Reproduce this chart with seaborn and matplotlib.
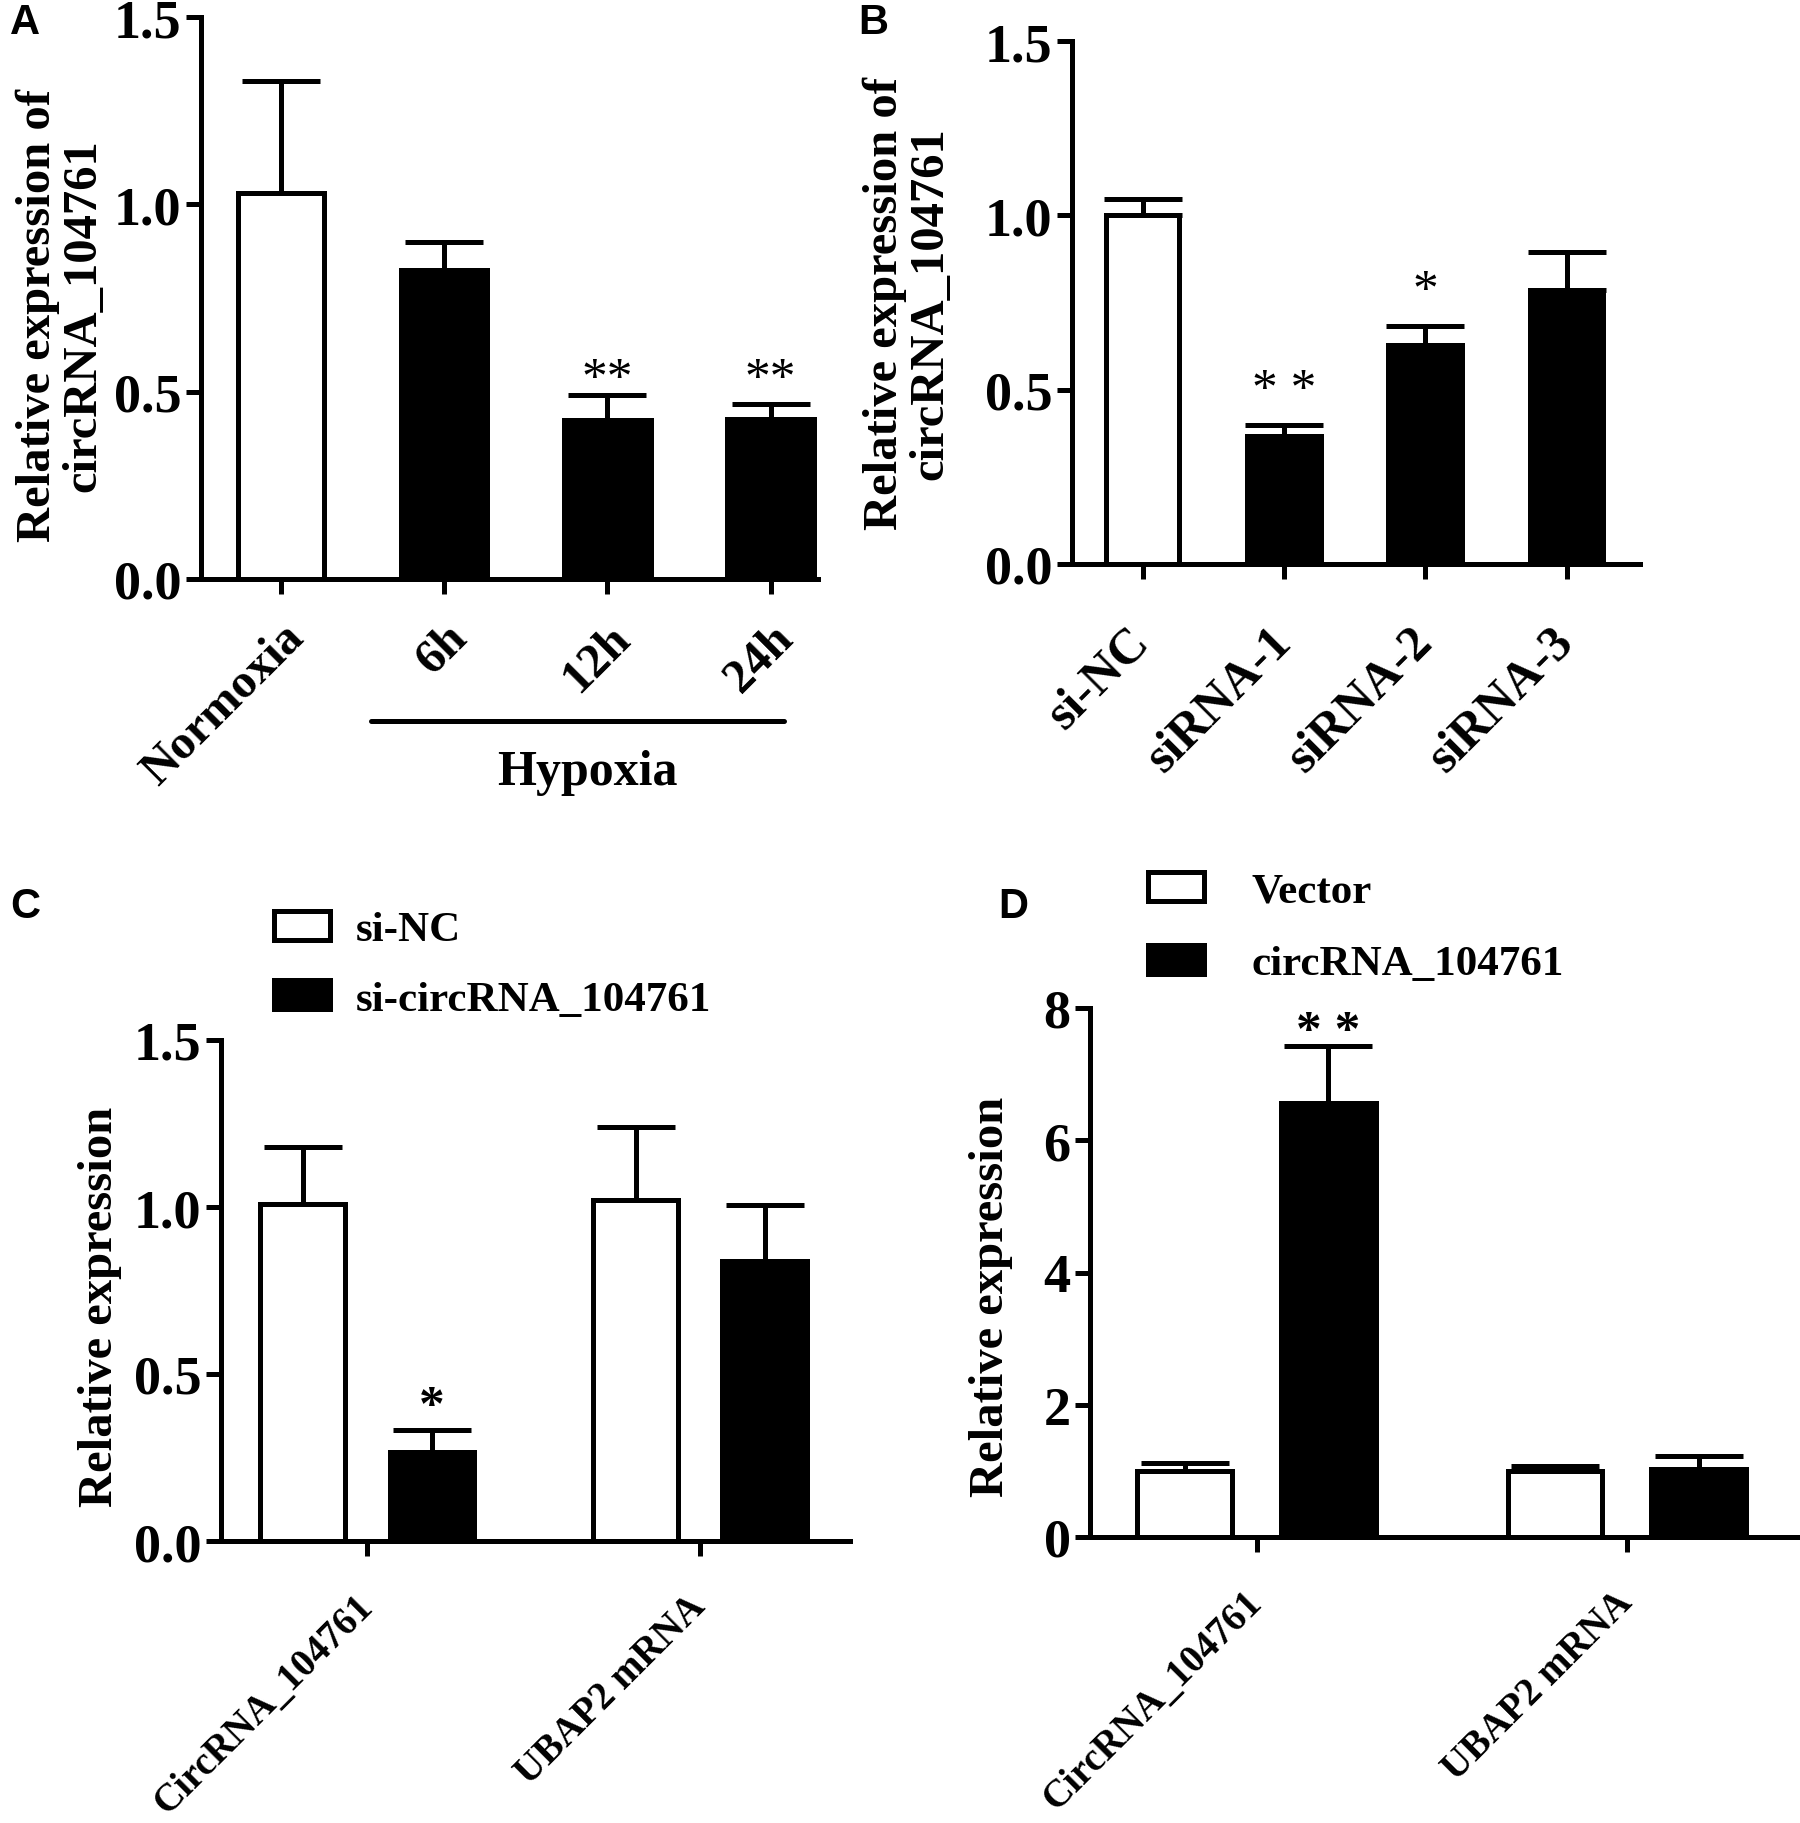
import matplotlib
matplotlib.use("Agg")
import matplotlib.pyplot as plt
import seaborn as sns
import pandas as pd

# panel A
a_groups = ["Normoxia", "6h", "12h", "24h"]
a_mean = [1.03, 0.825, 0.424, 0.426]
a_err = [0.30, 0.075, 0.067, 0.042]
a_sig = ["", "", "**", "**"]
a_sig_y = [0, 0, 0.535, 0.535]

# panel B
b_groups = ["si-NC", "siRNA-1", "siRNA-2", "siRNA-3"]
b_mean = [1.00, 0.366, 0.627, 0.785]
b_err = [0.047, 0.034, 0.057, 0.11]
b_sig = ["", "* *", "*", ""]
b_sig_y = [0, 0.50, 0.784, 0]

# panel C
c_genes = ["CircRNA_104761", "UBAP2 mRNA"]
c_hue = ["si-NC", "si-circRNA_104761"]
c_mean = [[1.01, 1.02], [0.267, 0.837]]   # per hue, per gene
c_err = [[0.17, 0.22], [0.064, 0.17]]
c_sig = [["", ""], ["*", ""]]

# panel D
d_genes = ["CircRNA_104761", "UBAP2 mRNA"]
d_hue = ["Vector", "circRNA_104761"]
d_mean = [[1.00, 1.00], [6.57, 1.03]]
d_err = [[0.115, 0.07], [0.85, 0.19]]
d_sig = [["", ""], ["* *", ""]]

sns.set_style("ticks")
plt.rcParams["font.family"] = ["Liberation Serif", "DejaVu Serif"]
plt.rcParams["font.weight"] = "bold"
plt.rcParams["axes.labelweight"] = "bold"
for k in ["text.color", "axes.labelcolor", "xtick.color", "ytick.color", "axes.edgecolor"]:
    plt.rcParams[k] = "black"

W, H = 1800, 1824
fig = plt.figure(figsize=(W / 100, H / 100), dpi=100)

LW = 3.6
TICK_FS = 39
LAB_FS = 35


def add_axes(left, top, right, bottom):
    return fig.add_axes([left / W, 1 - bottom / H, (right - left) / W, (bottom - top) / H])


def style(ax):
    sns.despine(ax=ax)
    for s in ["left", "bottom"]:
        ax.spines[s].set_linewidth(LW)
    ax.tick_params(width=LW, length=11, labelsize=TICK_FS)
    ax.tick_params(axis="y", pad=3)
    ax.set_xlabel("")
    for lab in ax.get_yticklabels():
        lab.set_fontweight("bold")


def rot_labels(ax, labels, fs, pad, va="top"):
    ax.set_xticks(range(len(labels)))
    ax.set_xticklabels(labels, rotation=45, ha="right", va=va,
                       rotation_mode="anchor", fontsize=fs, fontweight="bold")
    ax.tick_params(axis="x", pad=pad)


def errbars(ax, xs, ys, es, capsize=28):
    ax.errorbar(xs, ys, yerr=[[0] * len(es), es], fmt="none", ecolor="black",
                elinewidth=LW, capsize=capsize, capthick=LW, zorder=3)


def stars(ax, xs, ys, sigs):
    for x, y, s in zip(xs, ys, sigs):
        if s:
            ax.text(x, y, s, ha="center", va="center", fontsize=37,
                    fontweight="normal", color="black")


# ---------- A ----------
axA = add_axes(201, 18, 818, 580)
dfA = pd.DataFrame({"group": a_groups, "value": a_mean})
sns.barplot(data=dfA, x="group", y="value", hue="group",
            palette=["white", "black", "black", "black"], legend=False,
            width=0.53, edgecolor="black", linewidth=LW, errorbar=None, ax=axA)
errbars(axA, range(4), a_mean, a_err)
stars(axA, range(4), a_sig_y, a_sig)
axA.set_ylim(0, 1.5)
axA.set_xlim(-0.49, 3.29)
axA.set_yticks([0, 0.5, 1.0, 1.5])
axA.set_yticklabels(["0.0", "0.5", "1.0", "1.5"])
style(axA)
rot_labels(axA, a_groups, 35, 15)
axA.set_ylabel("Relative expression of\ncircRNA_104761", fontsize=LAB_FS, linespacing=1.05)
axA.yaxis.set_label_coords(-0.155, 0.47)
axA.plot([0.55, 3.08], [-0.253, -0.253], color="black", lw=LW,
         transform=axA.get_xaxis_transform(), clip_on=False)
axA.text(1.88, -0.343, "Hypoxia", transform=axA.get_xaxis_transform(),
         ha="center", va="center", fontsize=36, fontweight="bold")

# ---------- B ----------
axB = add_axes(1072, 42, 1640, 565)
dfB = pd.DataFrame({"group": b_groups, "value": b_mean})
sns.barplot(data=dfB, x="group", y="value", hue="group",
            palette=["white", "black", "black", "black"], legend=False,
            width=0.52, edgecolor="black", linewidth=LW, errorbar=None, ax=axB)
errbars(axB, range(4), b_mean, b_err)
stars(axB, range(4), b_sig_y, b_sig)
axB.set_ylim(0, 1.5)
axB.set_xlim(-0.5, 3.52)
axB.set_yticks([0, 0.5, 1.0, 1.5])
axB.set_yticklabels(["0.0", "0.5", "1.0", "1.5"])
style(axB)
rot_labels(axB, b_groups, 36, 40, va="center")
axB.set_ylabel("Relative expression of\ncircRNA_104761", fontsize=LAB_FS, linespacing=1.05)
axB.yaxis.set_label_coords(-0.21, 0.5)


# ---------- C & D ----------
def grouped(ax, genes, hues, means, errs, sigs, off, capsize=28):
    rows = []
    for h, mvals in zip(hues, means):
        for g, m in zip(genes, mvals):
            rows.append({"gene": g, "group": h, "value": m})
    df = pd.DataFrame(rows)
    sns.barplot(data=df, x="gene", y="value", hue="group", hue_order=hues,
                palette=["white", "black"], width=0.777, gap=0.344,
                edgecolor="black", linewidth=LW, errorbar=None, ax=ax)
    patches = [p for p in ax.patches if p.get_height() > 0]
    k = 0
    for hi in range(len(hues)):
        for gi in range(len(genes)):
            p = patches[k]
            k += 1
            x = p.get_x() + p.get_width() / 2
            errbars(ax, [x], [means[hi][gi]], [errs[hi][gi]], capsize)
            if sigs[hi][gi]:
                ax.text(x, means[hi][gi] + errs[hi][gi] + off, sigs[hi][gi],
                        ha="center", va="center", fontsize=37, color="black")
    return ax


axC = add_axes(221, 1041, 850, 1542)
grouped(axC, c_genes, c_hue, c_mean, c_err, c_sig, 0.07)
axC.set_ylim(0, 1.5)
axC.set_xlim(-0.44, 1.45)
axC.set_yticks([0, 0.5, 1.0, 1.5])
axC.set_yticklabels(["0.0", "0.5", "1.0", "1.5"])
style(axC)
rot_labels(axC, c_genes, 28, 32, va="center")
axC.set_ylabel("Relative expression", fontsize=LAB_FS)
axC.yaxis.set_label_coords(-0.158, 0.47)
h, l = axC.get_legend_handles_labels()
axC.legend(h, l, loc="upper left", bbox_to_anchor=(274 / W, 1 - 912 / H),
           bbox_transform=fig.transFigure, frameon=False, fontsize=31,
           handlelength=1.3, handleheight=0.65, handletextpad=0.6,
           labelspacing=0.72, borderpad=0, borderaxespad=0)

axD = add_axes(1090, 1009, 1797, 1538)
grouped(axD, d_genes, d_hue, d_mean, d_err, d_sig, 0.22, capsize=32)
axD.set_ylim(0, 8)
axD.set_xlim(-0.45, 1.46)
axD.set_yticks([0, 2, 4, 6, 8])
style(axD)
rot_labels(axD, d_genes, 28, 32, va="center")
axD.set_ylabel("Relative expression", fontsize=LAB_FS)
axD.yaxis.set_label_coords(-0.109, 0.455)
h, l = axD.get_legend_handles_labels()
axD.legend(h, l, loc="upper left", bbox_to_anchor=(1148 / W, 1 - 873 / H),
           bbox_transform=fig.transFigure, frameon=False, fontsize=31,
           handlelength=1.3, handleheight=0.65, handletextpad=1.1,
           labelspacing=0.8, borderpad=0, borderaxespad=0)

# panel letters
for letter, x, y in [("A", 10, 23), ("B", 858, 23), ("C", 10, 907), ("D", 998, 907)]:
    fig.text(x / W, 1 - y / H, letter, ha="left", va="center", fontsize=30,
             fontweight="bold", family="Liberation Sans")

fig.savefig("out.png", dpi=100, facecolor="white")
